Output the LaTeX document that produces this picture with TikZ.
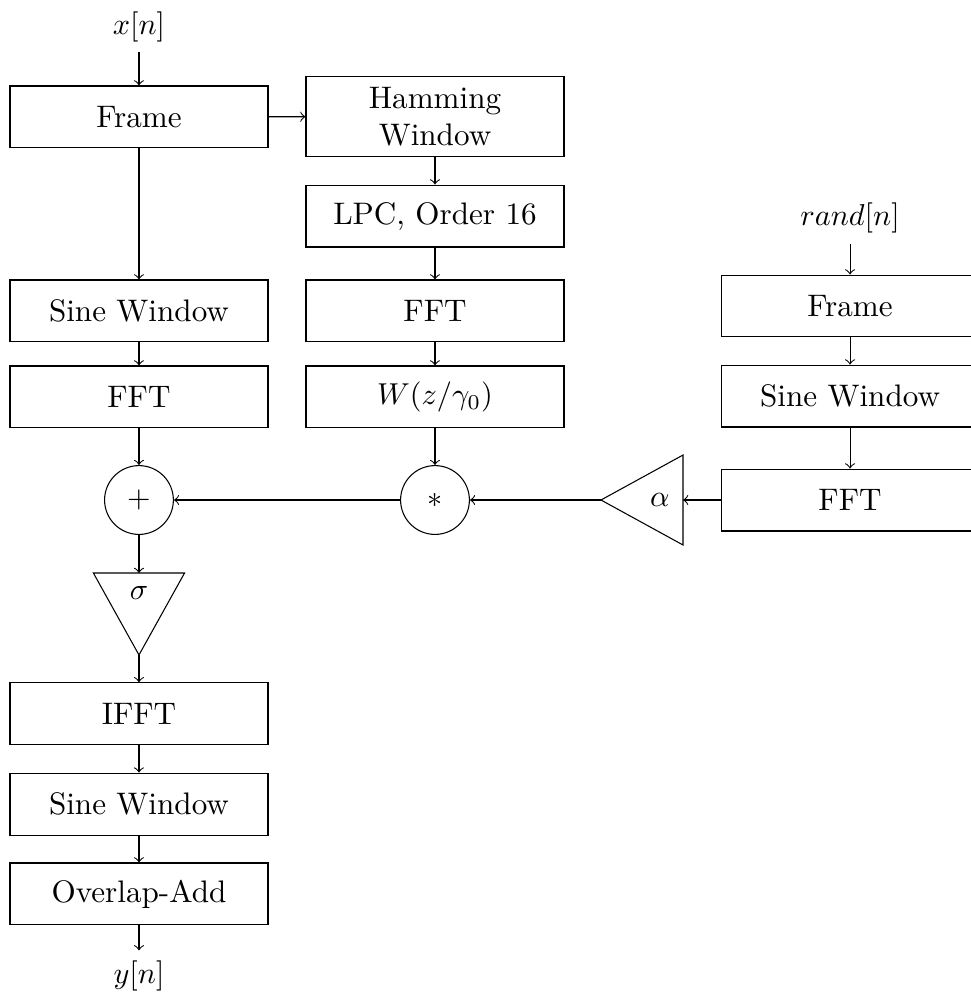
\documentclass[tikz,border=0pt]{standalone}
\usepackage{amsmath}
\usepackage{amssymb}
\usetikzlibrary{arrows}
\usetikzlibrary{shapes.geometric,calc}

\tikzset{
	block/.style={draw, rectangle, minimum width=3cm, minimum height=0.72cm, align=center},
	junction/.style={draw, circle, minimum size=0.8cm, inner sep=0pt}
}

\begin{document}
\begin{tikzpicture}[>=to, line width=0.35pt, font=\fontsize{10.3}{12.4}\selectfont]
		\useasboundingbox (0,0) rectangle (11.28,-11.593);

		% left column
		\node (xn) at (1.616,-0.31) {$x[n]$};
		\node[block] (frame) at (1.616,-1.36) {Frame};
		\node[block] (sinel) at (1.616,-3.616) {Sine Window};
		\node[block] (fftl) at (1.616,-4.616) {FFT};
		\node[junction] (add) at (1.616,-5.814) {$+$};

		% middle column
		\node[block, minimum height=0.94cm] (hamming) at (5.058,-1.355) {Hamming\\Window};
		\node[block] (lpc) at (5.058,-2.512) {LPC, Order 16};
		\node[block] (fftm) at (5.058,-3.616) {FFT};
		\node[block] (weight) at (5.058,-4.616) {$W(z/\gamma_0)$};
		\node[junction] (mult) at (5.058,-5.814) {$*$};

		% right column
		\node (rand) at (9.884,-2.54) {$rand[n]$};
		\node[block] (framer) at (9.884,-3.558) {Frame};
		\node[block] (siner) at (9.884,-4.605) {Sine Window};
		\node[block] (fftr) at (9.884,-5.814) {FFT};

		% gain alpha
		\coordinate (alphain) at (7.942,-5.814);
		\coordinate (alphatip) at (6.988,-5.814);
		\draw (alphatip) -- ($(alphain)+(0,0.523)$) -- ($(alphain)+(0,-0.523)$) -- cycle;
		\node (alpha) at (7.674,-5.814) {$\alpha$};

		% gain sigma
		\coordinate (sigtop) at (1.616,-6.663);
		\coordinate (sigtip) at (1.616,-7.616);
		\draw (sigtip) -- ($(sigtop)+(-0.53,0)$) -- ($(sigtop)+(0.53,0)$) -- cycle;
		\node (sigma) at (1.616,-6.9) {$\sigma$};

		% output
		\node[block] (ifft) at (1.616,-8.30) {IFFT};
		\node[block] (sineo) at (1.616,-9.35) {Sine Window};
		\node[block] (ola) at (1.616,-10.395) {Overlap-Add};
		\node (yn) at (1.616,-11.35) {$y[n]$};

		\draw[->] (xn) -- (frame);
		\draw[->] (frame) -- (hamming);
		\draw[->] (frame) -- (sinel);
		\draw[->] (sinel) -- (fftl);
		\draw[->] (fftl) -- (add);
		\draw[->] (hamming) -- (lpc);
		\draw[->] (lpc) -- (fftm);
		\draw[->] (fftm) -- (weight);
		\draw[->] (weight) -- (mult);
		\draw[->] (rand) -- (framer);
		\draw[->] (framer) -- (siner);
		\draw[->] (siner) -- (fftr);
		\draw[->] (fftr) -- (alphain);
		\draw[->] (alphatip) -- (mult);
		\draw[->] (mult) -- (add);
		\draw[->] (add) -- (sigtop);
		\draw[->] (sigtip) -- (ifft);
		\draw[->] (ifft) -- (sineo);
		\draw[->] (sineo) -- (ola);
		\draw[->] (ola) -- (yn);
	\end{tikzpicture}
\end{document}
